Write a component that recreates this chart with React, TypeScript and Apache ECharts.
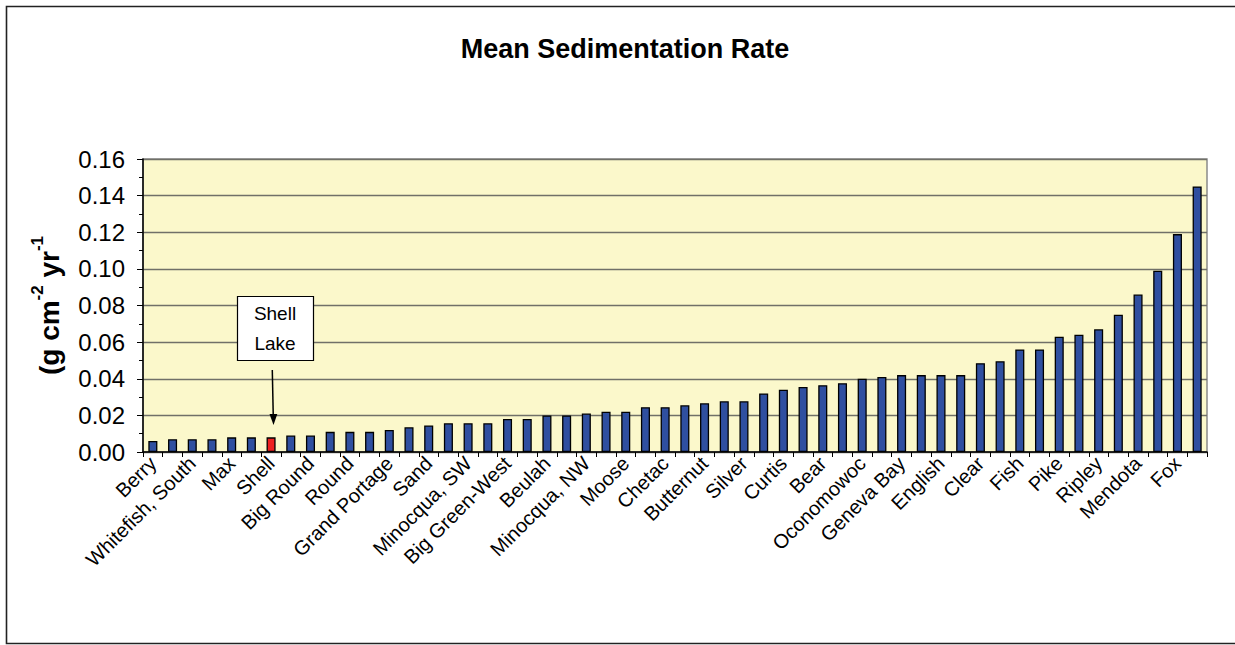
import React, { useEffect, useRef } from "react";
import * as echarts from "echarts";

const lakeNames: string[] = [
  "Berry", "", "Whitefish, South", "", "Max", "", "Shell", "", "Big Round", "",
  "Round", "", "Grand Portage", "", "Sand", "", "Minocqua, SW", "", "Big Green-West", "",
  "Beulah", "", "Minocqua, NW", "", "Moose", "", "Chetac", "", "Butternut", "",
  "Silver", "", "Curtis", "", "Bear", "", "Oconomowoc", "", "Geneva Bay", "",
  "English", "", "Clear", "", "Fish", "", "Pike", "", "Ripley", "",
  "Mendota", "", "Fox", "",
];

const sedimentationRate: number[] = [
  0.006, 0.007, 0.007, 0.007, 0.008, 0.008, 0.008, 0.009, 0.009, 0.011,
  0.011, 0.011, 0.012, 0.0135, 0.0145, 0.0157, 0.0157, 0.0157, 0.018, 0.018,
  0.020, 0.020, 0.021, 0.022, 0.022, 0.0245, 0.0245, 0.0255, 0.0266, 0.0277,
  0.0277, 0.032, 0.034, 0.0355, 0.0365, 0.0376, 0.040, 0.041, 0.042, 0.042,
  0.042, 0.042, 0.0485, 0.0496, 0.056, 0.056, 0.063, 0.064, 0.067, 0.075,
  0.086, 0.099, 0.119, 0.145,
];

const highlightedLake = "Shell";
const yTicks = { min: 0, max: 0.16, interval: 0.02 };

const FONT = "'Liberation Sans', Arial, sans-serif";

export default function App() {
  const ref = useRef<HTMLDivElement>(null);

  useEffect(() => {
    document.body.style.margin = "0";
    if (!ref.current) return;
    const chart = echarts.init(ref.current, null, { renderer: "svg" });

    const data = sedimentationRate.map((v, i) =>
      lakeNames[i] === highlightedLake
        ? { value: v, itemStyle: { color: "#EE2020" } }
        : v
    );

    chart.setOption({
      animation: false,
      backgroundColor: "#ffffff",
      title: {
        text: "Mean Sedimentation Rate",
        left: 620,
        textAlign: "center",
        top: 30,
        textStyle: { fontFamily: FONT, fontSize: 27, fontWeight: "bold", color: "#000" },
      },
      grid: {
        left: 143,
        right: 28,
        top: 159,
        bottom: 193,
        show: true,
        backgroundColor: "#FBF8CB",
        borderColor: "#8a8a8a",
        borderWidth: 1.5,
      },
      xAxis: {
        type: "category",
        data: lakeNames,
        boundaryGap: true,
        axisLine: { lineStyle: { color: "#000", width: 1.5 } },
        axisTick: { show: true, interval: 0, length: 5, lineStyle: { color: "#000" } },
        axisLabel: {
          interval: 0,
          rotate: 45,
          fontFamily: FONT,
          fontSize: 20,
          color: "#000",
          margin: 8,
        },
      },
      yAxis: {
        type: "value",
        min: yTicks.min,
        max: yTicks.max,
        interval: yTicks.interval,
        name: "{a|(g cm}{s|-2}{a| yr}{s|-1}",
        nameLocation: "middle",
        nameRotate: 90,
        nameGap: 80,
        nameTextStyle: {
          rich: {
            a: { fontFamily: FONT, fontSize: 28, fontWeight: "bold", color: "#000", lineHeight: 34, verticalAlign: "bottom" },
            s: { fontFamily: FONT, fontSize: 17, fontWeight: "bold", color: "#000", lineHeight: 34, verticalAlign: "top" },
          },
        },
        axisLine: { show: true, lineStyle: { color: "#000", width: 1.5 } },
        axisTick: { show: true, length: 6, lineStyle: { color: "#000" } },
        minorTick: { show: true, splitNumber: 2, length: 4, lineStyle: { color: "#000" } },
        splitLine: { show: true, lineStyle: { color: "#707068", width: 1.3 } },
        axisLabel: {
          fontFamily: FONT,
          fontSize: 24,
          color: "#000",
          margin: 18,
          formatter: (v: number) => v.toFixed(2),
        },
      },
      series: [
        {
          type: "bar",
          data,
          barWidth: "46%",
          itemStyle: { color: "#2F4FA0", borderColor: "#000", borderWidth: 1.3 },
        },
      ],
      graphic: [
        {
          type: "polyline",
          shape: { points: [[1240, 6.5], [6.5, 6.5], [6.5, 643.5], [1240, 643.5]] },
          style: { fill: "none", stroke: "#222", lineWidth: 1.6 },
          silent: true,
        },
        {
          type: "rect",
          shape: { x: 237.5, y: 296.5, width: 76, height: 64 },
          style: { fill: "#fff", stroke: "#000", lineWidth: 1.2 },
          z: 100,
        },
        {
          type: "text",
          x: 275,
          y: 313,
          style: { text: "Shell", font: "19px 'Liberation Sans', Arial, sans-serif", fill: "#000", align: "center", verticalAlign: "middle" },
          z: 101,
        },
        {
          type: "text",
          x: 275,
          y: 343,
          style: { text: "Lake", font: "19px 'Liberation Sans', Arial, sans-serif", fill: "#000", align: "center", verticalAlign: "middle" },
          z: 101,
        },
        {
          type: "line",
          shape: { x1: 272.3, y1: 370, x2: 273.3, y2: 418 },
          style: { stroke: "#000", lineWidth: 1.5 },
          z: 101,
        },
        {
          type: "polygon",
          shape: { points: [[269.5, 414], [277.3, 414], [273.5, 425]] },
          style: { fill: "#000" },
          z: 101,
        },
      ],
    });

    return () => chart.dispose();
  }, []);

  return <div ref={ref} style={{ width: 1235, height: 645 }} />;
}
